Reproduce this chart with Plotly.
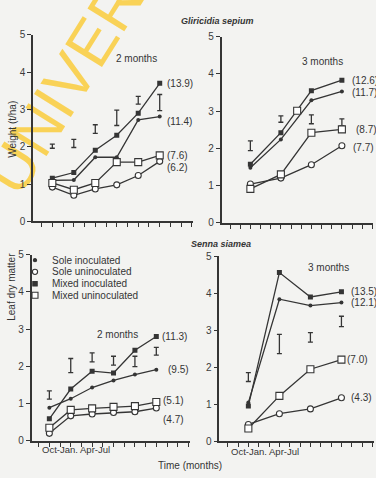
import plotly.graph_objects as go

W, H = 376, 478

# ---- data -------------------------------------------------------------
series_names = ["Sole inoculated", "Sole uninoculated", "Mixed inoculated", "Mixed uninoculated"]

months_2 = [1, 3, 5, 7, 9, 11]   # harvest every 2 months
months_3 = [2, 5, 8, 11]         # harvest every 3 months

# Gliricidia sepium, 2-month cutting (t/ha)
gs2_sole_inoc = [1.10, 1.11, 1.72, 1.72, 2.72, 2.81]
gs2_sole_uninoc = [0.92, 0.70, 0.87, 0.98, 1.23, 1.61]
gs2_mixed_inoc = [1.16, 1.31, 1.91, 2.31, 2.90, 3.70]
gs2_mixed_uninoc = [1.03, 0.85, 1.03, 1.59, 1.59, 1.77]
gs2_totals = ["(11.4)", "(6.2)", "(13.9)", "(7.6)"]
gs2_lsd_lo = [1.96, 1.98, 2.36, 2.57, 3.14, 2.97]
gs2_lsd_hi = [2.07, 2.20, 2.59, 2.98, 3.35, 3.40]

# Gliricidia sepium, 3-month cutting
gs3_sole_inoc = [1.48, 2.24, 3.29, 3.53]
gs3_sole_uninoc = [1.04, 1.20, 1.56, 2.07]
gs3_mixed_inoc = [1.57, 2.42, 3.55, 3.83]
gs3_mixed_uninoc = [0.91, 1.30, 2.42, 2.51]
gs3_totals = ["(11.7)", "(7.7)", "(12.6)", "(8.7)"]
gs3_lsd_lo = [1.94, 2.70, 2.66, 2.61]
gs3_lsd_hi = [2.20, 2.87, 2.90, 2.79]
gs3_extra_x = [6.6]
gs3_extra_y = [3.01]

# Senna siamea, 2-month cutting
ss2_sole_inoc = [0.89, 1.13, 1.43, 1.62, 1.78, 1.91]
ss2_sole_uninoc = [0.20, 0.67, 0.72, 0.76, 0.78, 0.88]
ss2_mixed_inoc = [0.59, 1.39, 1.87, 1.82, 2.43, 2.80]
ss2_mixed_uninoc = [0.35, 0.83, 0.87, 0.91, 0.93, 1.04]
ss2_totals = ["(9.5)", "(4.7)", "(11.3)", "(5.1)"]
ss2_lsd_lo = [1.12, 1.83, 2.12, 2.03, 1.99, 2.30]
ss2_lsd_hi = [1.34, 2.21, 2.36, 2.27, 2.27, 2.51]

# Senna siamea, 3-month cutting
ss3_sole_inoc = [1.05, 3.84, 3.67, 3.75]
ss3_sole_uninoc = [0.46, 0.75, 0.88, 1.18]
ss3_mixed_inoc = [0.96, 4.56, 3.90, 4.04]
ss3_mixed_uninoc = [0.35, 1.23, 1.95, 2.21]
ss3_totals = ["(12.1)", "(4.3)", "(13.5)", "(7.0)"]
ss3_lsd_lo = [1.62, 2.37, 2.68, 3.10]
ss3_lsd_hi = [1.86, 2.89, 2.94, 3.38]

month_ticks = list(range(15))
y_ticks = [0, 1, 2, 3, 4, 5]

# ---- styling ----------------------------------------------------------
INK = "#353535"
PAPER = "#f3f3f1"
FONT = "Liberation Sans, Arial, sans-serif"

marker_styles = [
    dict(symbol="circle", size=4, color=INK, line=dict(width=0)),
    dict(symbol="circle", size=6, color="white", line=dict(width=1.1, color=INK)),
    dict(symbol="square", size=5, color=INK, line=dict(width=0)),
    dict(symbol="square", size=7, color="white", line=dict(width=1.1, color=INK)),
]


def fx(p):
    return p / W


def fy(p):
    return 1 - p / H


# panel geometry in pixels: (left, right, bottom(y=0), top(y=5), x-range)
panels = [
    dict(ax="", left=33, right=193, y0=221, y5=29.5, xr=[-0.8, 14.1]),
    dict(ax="2", left=221.7, right=373, y0=222.3, y5=31.5, xr=[-0.82, 14.06]),
    dict(ax="3", left=31.7, right=190, y0=446, y5=255, xr=[-0.65, 14.15]),
    dict(ax="4", left=219.3, right=373.5, y0=446.7, y5=256.7, xr=[-0.81, 14.1]),
]

panel_data = [
    (months_2, [gs2_sole_inoc, gs2_sole_uninoc, gs2_mixed_inoc, gs2_mixed_uninoc], gs2_totals, gs2_lsd_lo, gs2_lsd_hi),
    (months_3, [gs3_sole_inoc, gs3_sole_uninoc, gs3_mixed_inoc, gs3_mixed_uninoc], gs3_totals, gs3_lsd_lo, gs3_lsd_hi),
    (months_2, [ss2_sole_inoc, ss2_sole_uninoc, ss2_mixed_inoc, ss2_mixed_uninoc], ss2_totals, ss2_lsd_lo, ss2_lsd_hi),
    (months_3, [ss3_sole_inoc, ss3_sole_uninoc, ss3_mixed_inoc, ss3_mixed_uninoc], ss3_totals, ss3_lsd_lo, ss3_lsd_hi),
]

# pixel nudges for the total labels (sole inoc, sole uninoc, mixed inoc, mixed uninoc)
label_shift = [
    [(5, -5), (5, -6), (5, 0), (5, 0)],
    [(8, -1), (9, -2), (8, 0), (12, 0)],
    [(10, 0), (5, -11), (4, 0), (5, 2)],
    [(8, 0), (8, 0), (8, 0), (4, 0)],
]

fig = go.Figure()
annotations = []

for p, (xs, ys_list, totals, lo, hi), shifts in zip(panels, panel_data, label_shift):
    xa = "x" + p["ax"]
    ya = "y" + p["ax"]
    # LSD bars
    mid = [(a + b) / 2 for a, b in zip(lo, hi)]
    half = [(b - a) / 2 for a, b in zip(lo, hi)]
    fig.add_trace(go.Scatter(
        x=xs, y=mid, mode="markers", xaxis=xa, yaxis=ya, showlegend=False,
        marker=dict(size=1, opacity=0), hoverinfo="skip",
        error_y=dict(type="data", array=half, symmetric=True, color=INK, thickness=1.3, width=2.5),
    ))
    # open markers drawn last so they sit on top of the lines
    for idx in [0, 2, 1, 3]:
        fig.add_trace(go.Scatter(
            x=xs, y=ys_list[idx], mode="lines+markers", xaxis=xa, yaxis=ya,
            name=series_names[idx], showlegend=False,
            line=dict(color=INK, width=1.3), marker=marker_styles[idx],
        ))
    for idx in range(4):
        dx, dy = shifts[idx]
        annotations.append(dict(
            x=xs[-1], y=ys_list[idx][-1], xref=xa, yref=ya, text=totals[idx],
            showarrow=False, xanchor="left", yanchor="middle", xshift=dx, yshift=dy,
            font=dict(size=10, color=INK, family=FONT),
        ))

# stray open square on the 3-month Gliricidia panel
fig.add_trace(go.Scatter(
    x=gs3_extra_x, y=gs3_extra_y, mode="markers", xaxis="x2", yaxis="y2",
    showlegend=False, marker=marker_styles[3],
))

axis_common = dict(
    showline=True, linecolor=INK, linewidth=1.6, mirror=False, showgrid=False,
    zeroline=False, ticks="outside", ticklen=4, tickwidth=1.4, tickcolor=INK,
    fixedrange=True,
)

layout_axes = {}
for p in panels:
    xkey = "xaxis" + p["ax"]
    ykey = "yaxis" + p["ax"]
    layout_axes[xkey] = dict(
        axis_common, domain=[fx(p["left"]), fx(p["right"])], range=p["xr"],
        tickvals=month_ticks, showticklabels=False, anchor="y" + p["ax"],
    )
    layout_axes[ykey] = dict(
        axis_common, domain=[fy(p["y0"]), fy(p["y5"])], range=[0, 5],
        tickvals=y_ticks, ticktext=[str(v) for v in y_ticks],
        tickfont=dict(size=10, color="#3c3c3c", family=FONT),
        anchor="x" + p["ax"],
    )


# text labels placed in page coordinates
def page_text(x, y, text, size=10, angle=0, italic_bold=False, anchor="center"):
    t = f"<b><i>{text}</i></b>" if italic_bold else text
    annotations.append(dict(
        x=fx(x), y=fy(y), xref="paper", yref="paper", text=t, showarrow=False,
        xanchor=anchor, yanchor="middle", textangle=angle,
        font=dict(size=size, color=INK, family=FONT),
    ))


page_text(217, 15, "Gliricidia sepium", size=9, italic_bold=True)
page_text(221, 244, "Senna siamea", size=9, italic_bold=True)
page_text(136, 54, "2 months", size=10)
page_text(322, 57, "3 months", size=10)
page_text(117, 337, "2 months", size=10)
page_text(328, 268, "3 months", size=10)
page_text(13, 127, "Weight (t/ha)", size=10, angle=-90)
page_text(12, 288, "Leaf dry matter", size=10, angle=-90)
page_text(190, 471, "Time (months)", size=10)
page_text(76, 455, "Oct-Jan. Apr-Jul", size=9.5)
page_text(265, 457, "Oct-Jan. Apr-Jul", size=9.5)

# legend drawn as small shapes + labels
shapes = []
legend_rows = [260.7, 272.7, 285.0, 296.7]
legend_kinds = [("circle", 1.6, INK, INK), ("circle", 2.6, "white", INK),
                ("rect", 2.2, INK, INK), ("rect", 3.0, "white", INK)]
for row_y, (kind, r, fill, edge), name in zip(legend_rows, legend_kinds, series_names):
    shapes.append(dict(
        type=kind, xref="paper", yref="paper", xsizemode="pixel", ysizemode="pixel",
        xanchor=fx(35), yanchor=fy(row_y), x0=-r, x1=r, y0=-r, y1=r,
        fillcolor=fill, line=dict(color=edge, width=1.1), layer="above",
    ))
    page_text(50, row_y, name, size=10, anchor="left")

# watermark behind the plots
shapes.append(dict(
    type="rect", xref="paper", yref="paper", x0=fx(46), x1=fx(94), y0=fy(84), y1=fy(38),
    line=dict(width=0), fillcolor="rgba(0,0,0,0)", layer="below",
    label=dict(text="UNIVERS", textangle=-58, textposition="middle center",
               font=dict(size=63, color="rgba(249,206,70,0.9)", family=FONT)),
))

fig.update_layout(
    width=W, height=H, margin=dict(l=0, r=0, t=0, b=0),
    paper_bgcolor=PAPER, plot_bgcolor="rgba(0,0,0,0)",
    showlegend=False, annotations=annotations, shapes=shapes,
    font=dict(family=FONT, color=INK),
    **layout_axes,
)

fig.write_html("out.html", config={"displayModeBar": False})
